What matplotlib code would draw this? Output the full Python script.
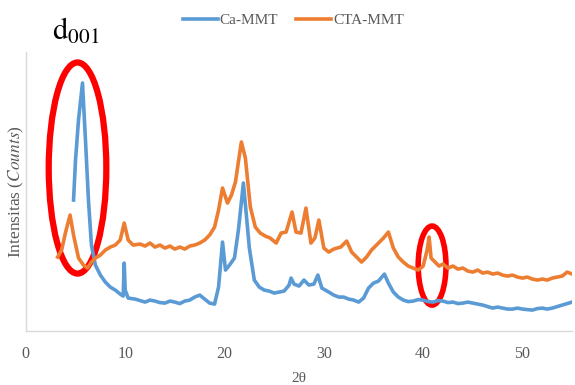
import matplotlib
matplotlib.use("Agg")
import matplotlib.pyplot as plt
from matplotlib.patches import Ellipse

# XRD patterns (counts, arbitrary units)
ca_two_theta = [4.8, 5.0, 5.3, 5.7, 6.0, 6.3, 6.6, 7.0, 7.5, 8.0, 8.5, 9.0, 9.5, 9.8,
                9.9, 10.0, 10.3, 11.0, 11.5, 12.0, 12.5, 13.0, 13.5, 14.0, 14.5, 15.0,
                15.5, 16.0, 16.5, 17.0, 17.5, 18.0, 18.5, 19.0, 19.4, 19.8, 20.1, 20.5,
                21.0, 21.4, 21.9, 22.2, 22.5, 23.0, 23.5, 24.0, 24.5, 25.0, 25.5, 26.0,
                26.5, 26.7, 27.0, 27.5, 28.0, 28.5, 29.0, 29.4, 29.8, 30.5, 31.0, 31.5,
                32.0, 32.5, 33.0, 33.5, 34.0, 34.5, 35.0, 35.5, 36.1, 36.5, 37.0, 37.5,
                38.0, 38.5, 39.0, 39.5, 40.0, 40.5, 41.0, 41.5, 42.0, 42.5, 43.0, 43.5,
                44.0, 44.5, 45.0, 45.5, 46.0, 46.5, 47.0, 47.5, 48.0, 48.5, 49.0, 49.5,
                50.0, 50.5, 51.0, 51.5, 52.0, 52.5, 53.0, 53.5, 54.0, 54.5, 55.0]
ca_counts = [1310, 1710, 2110, 2480, 1910, 1310, 860, 660, 560, 490, 440, 410, 370, 350,
             680, 410, 330, 320, 305, 290, 310, 300, 285, 280, 300, 290,
             275, 300, 310, 340, 360, 320, 280, 270, 440, 890, 610, 660,
             730, 1010, 1480, 1160, 830, 510, 440, 410, 400, 380, 390, 400,
             460, 530, 470, 450, 510, 460, 470, 560, 430, 390, 360, 340,
             340, 320, 310, 290, 330, 430, 480, 500, 570, 480, 390, 340,
             310, 295, 300, 315, 310, 295, 290, 305, 300, 285, 290, 275,
             280, 290, 280, 270, 260, 245, 230, 240, 230, 220, 220, 230,
             220, 215, 210, 225, 230, 220, 230, 245, 260, 275, 290]

cta_two_theta = [3.2, 3.6, 4.0, 4.45, 4.8, 5.3, 5.8, 6.2, 6.6, 7.0, 7.5, 8.0, 8.5, 9.0,
                 9.5, 9.9, 10.3, 10.8, 11.5, 12.0, 12.5, 13.0, 13.5, 14.0, 14.5, 15.0,
                 15.5, 16.0, 16.5, 17.0, 17.5, 18.0, 18.5, 19.0, 19.4, 19.8, 20.3, 20.7,
                 21.1, 21.5, 21.7, 22.1, 22.6, 23.1, 23.6, 24.1, 24.6, 25.2, 25.7, 26.2,
                 26.8, 27.2, 27.7, 28.2, 28.7, 29.1, 29.5, 30.0, 30.5, 31.0, 31.7, 32.3,
                 32.8, 33.3, 33.8, 34.3, 34.8, 35.5, 36.0, 36.5, 37.0, 37.5, 38.0, 38.5,
                 39.0, 39.5, 40.0, 40.4, 40.6, 40.8, 41.2, 41.6, 42.0, 42.5, 43.0, 43.5,
                 44.0, 44.5, 45.0, 45.5, 46.0, 46.5, 47.0, 47.5, 48.0, 48.5, 49.0, 49.5,
                 50.0, 50.5, 51.0, 51.5, 52.0, 52.5, 53.0, 53.5, 54.0, 54.5, 55.0]
cta_counts = [740, 810, 990, 1160, 960, 730, 660, 630, 690, 730, 760, 810, 840, 860,
              910, 1080, 910, 860, 870, 850, 880, 840, 860, 830, 850, 820,
              840, 820, 850, 860, 880, 910, 960, 1040, 1210, 1430, 1280, 1360,
              1490, 1760, 1890, 1730, 1240, 1040, 980, 950, 930, 880, 980, 990,
              1190, 990, 980, 1230, 880, 930, 1110, 830, 790, 820, 840, 900,
              790, 740, 690, 740, 810, 880, 930, 990, 830, 740, 690, 650,
              630, 610, 650, 810, 940, 730, 690, 650, 670, 630, 650, 620,
              630, 600, 590, 610, 580, 590, 570, 580, 560, 550, 560, 540,
              530, 540, 520, 510, 520, 510, 530, 540, 550, 590, 570]

x_ticks = [0, 10, 20, 30, 40, 50]

plt.rcParams['font.family'] = ['Liberation Serif', 'DejaVu Serif']
plt.rcParams['mathtext.fontset'] = 'stix'

fig = plt.figure(figsize=(5.75, 3.85), dpi=100)
ax = fig.add_axes([0.045, 0.140, 0.95, 0.725])

ax.plot(ca_two_theta, ca_counts, color='#5B9BD5', lw=2.6, label='Ca-MMT')
ax.plot(cta_two_theta, cta_counts, color='#ED7D31', lw=2.6, label='CTA-MMT')

# red highlight rings
ax.add_patch(Ellipse((5.2, 1630), 5.8, 2110, fill=False, ec='#FF0000', lw=4.5))
ax.add_patch(Ellipse((40.9, 655), 2.8, 790, fill=False, ec='#FF0000', lw=4))

ax.set_xlim(0, 55)
ax.set_ylim(0, 2790)
ax.set_xticks(x_ticks)
ax.set_yticks([])
ax.tick_params(axis='x', length=0, pad=11, labelsize=11.5, labelcolor='#595959')
for side in ['top', 'right']:
    ax.spines[side].set_visible(False)
for side in ['left', 'bottom']:
    ax.spines[side].set_color('#D9D9D9')
    ax.spines[side].set_linewidth(1.0)

ax.set_xlabel('2θ', fontsize=11, color='#595959', labelpad=7)
ax.set_ylabel(r'Intensitas ($\it{Counts}$)', fontsize=12.5, color='#595959', labelpad=0)

fig.legend(loc='center', bbox_to_anchor=(0.51, 0.948), ncol=2, frameon=False,
           handlelength=2.3, handletextpad=0.1, columnspacing=1.2,
           prop={'size': 11}, labelcolor='#595959')

fig.text(0.09, 0.896, r'$\mathrm{d}_{001}$', fontsize=22, va='baseline')

fig.savefig('out.png', dpi=100)
